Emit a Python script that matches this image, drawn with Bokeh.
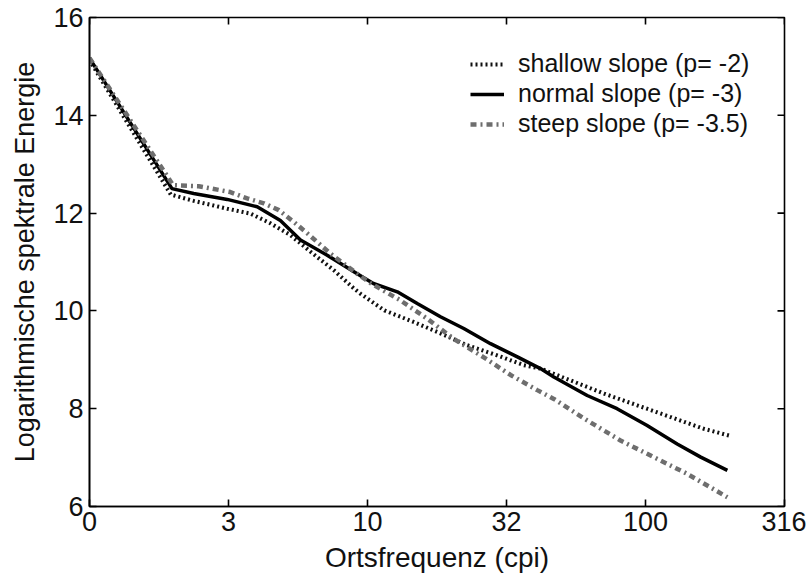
import math
from bokeh.plotting import figure
from bokeh.models import FixedTicker, Legend, LegendItem, Range1d
from bokeh.embed import file_html
from bokeh.resources import INLINE

# ---- data ----
x_tick_values = [1, 3.1623, 10, 31.623, 100, 316.2]
x_tick_labels = ["0", "3", "10", "32", "100", "316"]
y_tick_values = [6, 8, 10, 12, 14, 16]
x_lo, x_hi = 1, 316.23
y_lo, y_hi = 6, 16

shallow_f = [1, 1.96, 2.37, 3.13, 3.79, 4.48, 5.28, 6.24, 7.57, 8.93, 9.44, 11.5, 14.7,
             17.8, 22.8, 29.3, 36.5, 41.9, 53.7, 70.8, 93.3, 123, 162, 200]
shallow_e = [15.13, 12.38, 12.25, 12.09, 11.99, 11.79, 11.55, 11.21, 10.83, 10.46, 10.35,
             10.01, 9.77, 9.57, 9.30, 9.09, 8.89, 8.82, 8.58, 8.31, 8.07, 7.83, 7.59, 7.45]

normal_f = [1, 1.98, 2.37, 3.13, 4.01, 4.86, 5.74, 7.16, 9.18, 10.5, 12.8, 15.1, 18.3,
            22.2, 27.7, 34.6, 41.9, 46.8, 61.7, 79, 101, 130, 158, 197]
normal_e = [15.17, 12.50, 12.40, 12.28, 12.13, 11.85, 11.45, 11.14, 10.76, 10.56, 10.39,
            10.15, 9.88, 9.64, 9.33, 9.06, 8.82, 8.65, 8.27, 8.00, 7.66, 7.28, 7.01, 6.74]

steep_f = [1, 2.0, 2.47, 3.21, 3.69, 4.24, 4.8, 5.43, 5.98, 6.59, 7.36, 9.18, 10.3, 13.1,
           16.4, 20.4, 26.2, 32.7, 40.8, 46.8, 61.7, 81.3, 107, 141, 197]
steep_e = [15.17, 12.57, 12.55, 12.43, 12.30, 12.20, 12.06, 11.82, 11.62, 11.41, 11.17,
           10.76, 10.56, 10.22, 9.84, 9.43, 9.05, 8.69, 8.38, 8.20, 7.76, 7.35, 7.01, 6.67, 6.19]

series_labels = ["shallow slope (p= -2)", "normal slope (p= -3)", "steep slope (p= -3.5)"]

FONT = "Liberation Sans"

p = figure(width=806, height=576, x_axis_type="log",
           x_range=Range1d(x_lo, x_hi), y_range=Range1d(y_lo, y_hi),
           output_backend="svg", toolbar_location=None,
           min_border_left=89, min_border_right=22, min_border_top=17, min_border_bottom=70,
           background_fill_color="white", border_fill_color="white")

p.grid.visible = False
p.outline_line_color = "black"
p.outline_line_width = 1.6

def style_axis(ax):
    ax.axis_line_color = "black"
    ax.axis_line_width = 1.6
    ax.major_tick_line_color = "black"
    ax.major_tick_line_width = 1.6
    ax.major_tick_in = 7
    ax.major_tick_out = 0
    ax.minor_tick_line_color = None
    ax.major_label_text_font = FONT
    ax.major_label_text_color = "#111111"
    ax.major_label_text_font_size = "27px"
    ax.axis_label_text_font = FONT
    ax.axis_label_text_font_style = "normal"
    ax.axis_label_text_color = "#111111"

xax = p.xaxis[0]
xax.ticker = FixedTicker(ticks=x_tick_values)
xax.major_label_overrides = {v: s for v, s in zip(x_tick_values, x_tick_labels)}
xax.axis_label = "Ortsfrequenz (cpi)"
style_axis(xax)
xax.axis_label_text_font_size = "28px"
xax.major_label_standoff = 5
xax.axis_label_standoff = 8

yax = p.yaxis[0]
yax.ticker = FixedTicker(ticks=y_tick_values)
yax.axis_label = "Logarithmische spektrale Energie"
style_axis(yax)
yax.axis_label_text_font_size = "27px"
yax.major_label_standoff = 6
yax.axis_label_standoff = 10

# inward tick marks on the top and right frame edges (box style)
p.ray(x=x_tick_values, y=[y_hi] * len(x_tick_values), length=7, length_units="screen",
      angle=-math.pi / 2, line_color="black", line_width=1.6)
p.ray(x=[x_hi] * len(y_tick_values), y=y_tick_values, length=7, length_units="screen",
      angle=math.pi, line_color="black", line_width=1.6)

r_shallow = p.line(shallow_f, shallow_e, line_color="#111111", line_width=4,
                   line_dash="2 3")
r_normal = p.line(normal_f, normal_e, line_color="black", line_width=3.5)
r_steep = p.line(steep_f, steep_e, line_color="#6e6e6e", line_width=4.5,
                 line_dash="6 4 2 4")

legend = Legend(items=[LegendItem(label=series_labels[0], renderers=[r_shallow]),
                       LegendItem(label=series_labels[1], renderers=[r_normal]),
                       LegendItem(label=series_labels[2], renderers=[r_steep])],
                location=(381, 368))
legend.label_text_font = FONT
legend.label_text_font_size = "25px"
legend.label_text_color = "#111111"
legend.border_line_color = None
legend.background_fill_alpha = 0
legend.padding = 0
legend.margin = 0
legend.spacing = 1
legend.glyph_width = 34
legend.glyph_height = 28
legend.label_height = 28
legend.label_standoff = 14
p.add_layout(legend)

open("out.html", "w").write(file_html(p, INLINE))
